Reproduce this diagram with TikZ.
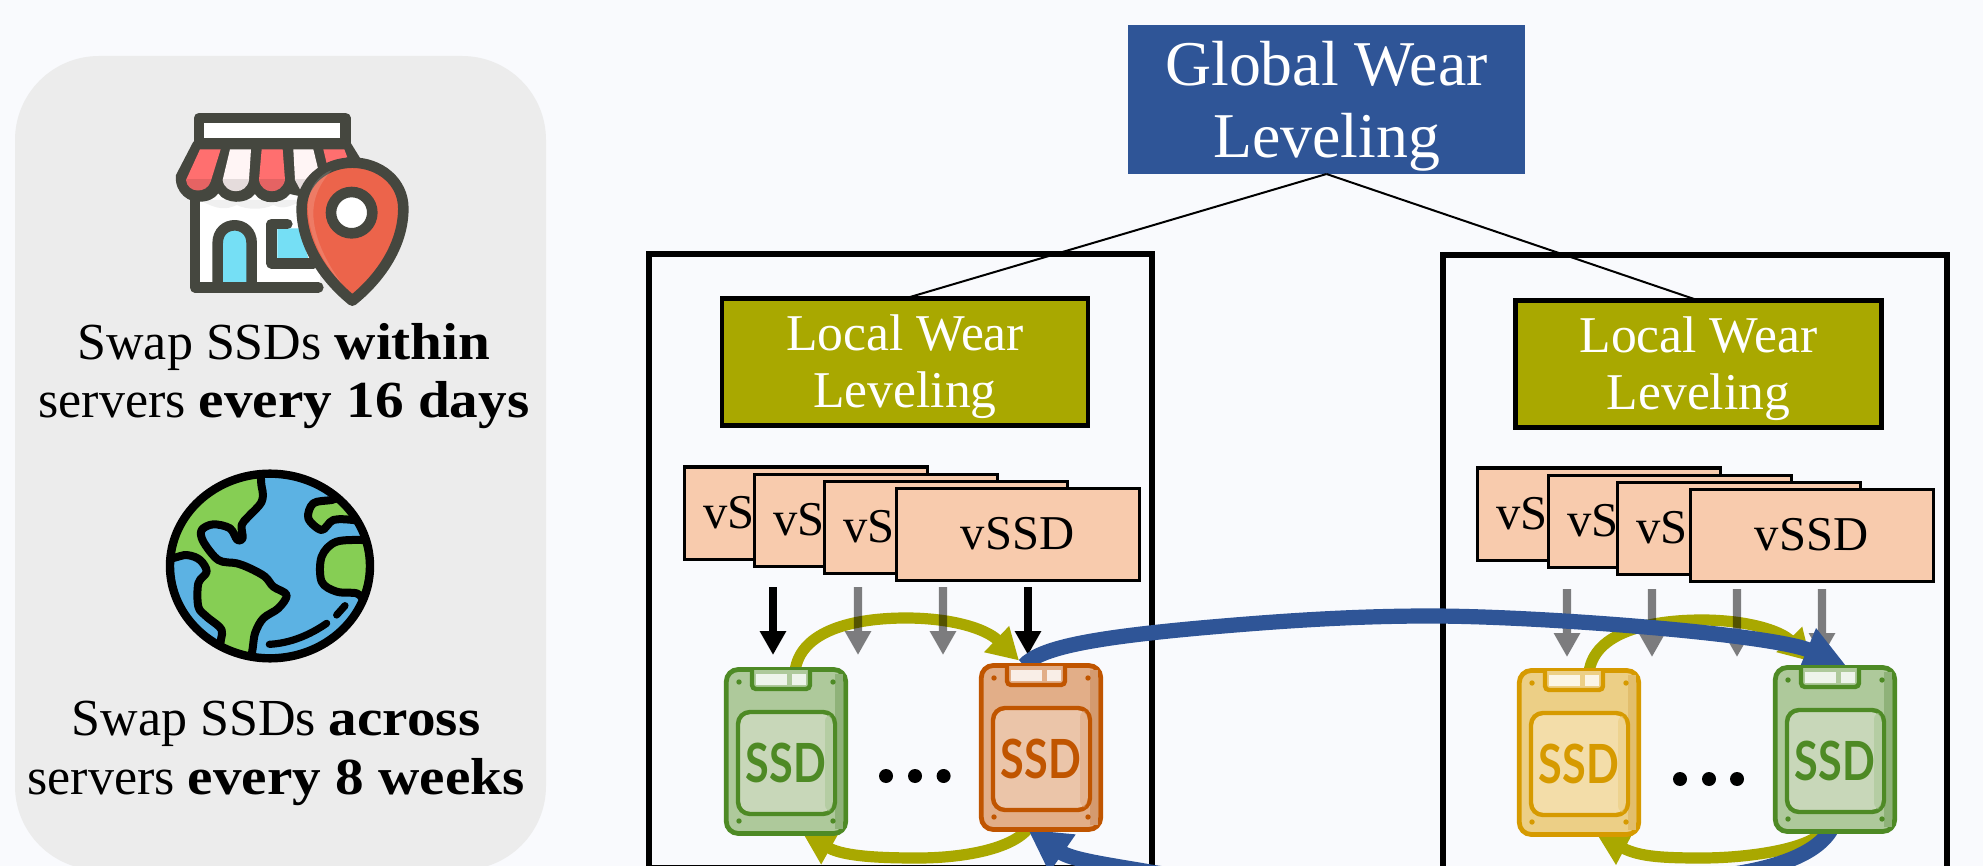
\documentclass[tikz,border=0pt]{standalone}
\usepackage{fontspec}
\setmainfont[BoldFeatures={FakeStretch=1.1}]{Liberation Serif}
\newfontfamily\ssdfont[FakeStretch=0.8]{Lato}
\usetikzlibrary{arrows.meta}
\pgfdeclarelayer{fore}
\pgfsetlayers{main,fore}
\definecolor{pagebg}{HTML}{F9FAFD}
\definecolor{panelbg}{HTML}{ECECEC}
\definecolor{globalblue}{HTML}{2F5597}
\definecolor{olive}{HTML}{A9A800}
\definecolor{peach}{HTML}{F8CBAD}
\definecolor{gDark}{HTML}{4E8A25}
\definecolor{gFill}{HTML}{AEC99B}
\definecolor{gIn}{HTML}{C8D7B9}
\definecolor{gStrip}{HTML}{8FB279}
\definecolor{oDark}{HTML}{C05500}
\definecolor{oFill}{HTML}{E2AE88}
\definecolor{oIn}{HTML}{EBC5A9}
\definecolor{oStrip}{HTML}{D49A6F}
\definecolor{yDark}{HTML}{D69A00}
\definecolor{yFill}{HTML}{ECCF86}
\definecolor{yIn}{HTML}{F3DDA9}
\definecolor{yStrip}{HTML}{E2BE6C}
\definecolor{shopDark}{HTML}{45473F}
\definecolor{shopRed}{HTML}{FF6F6F}
\definecolor{shopWhite}{HTML}{FFF5F5}
\definecolor{shopCyan}{HTML}{75DFF5}
\definecolor{pinRed}{HTML}{EC644B}
\definecolor{ocean}{HTML}{5CB2E3}
\definecolor{land}{HTML}{86CE54}
\tikzset{
  server/.style={draw=black,line width=2.7pt,minimum width=251.5pt,minimum height=307pt,anchor=north west,outer sep=0pt,inner sep=0pt},
  globalbox/.style={fill=globalblue,text=white,minimum width=198.5pt,minimum height=74.5pt,inner sep=0pt,outer sep=0pt,align=center,font=\fontsize{31.9}{36}\selectfont},
  localbox/.style={draw=black,line width=2.1pt,fill=olive,text=white,minimum width=183pt,minimum height=63.5pt,inner sep=0pt,outer sep=0pt,align=center,font=\fontsize{25.8}{28.5}\selectfont},
  vbox/.style={draw=black,line width=1.5pt,fill=peach,text=black,minimum height=46pt,anchor=north west,outer sep=0pt,inner xsep=9.75pt,inner ysep=0pt,text width=102pt,align=left,font=\fontsize{24.3}{26}\selectfont},
  topbox/.style={vbox,inner xsep=32.4pt,text width=57pt},
  capt/.style={anchor=base,inner sep=0pt,font=\fontsize{26}{30}\selectfont},
  vblack/.style={line width=4.2pt,-{Triangle[length=12pt,width=12.5pt]},draw=black},
  vgrey/.style={line width=4.2pt,-{Triangle[length=12pt,width=12.5pt]},draw=black},
  swaplocal/.style={line width=5.6pt,draw=olive,-{Triangle[length=15.5pt,width=17pt]}},
  swapglobal/.style={line width=7.6pt,draw=globalblue,-{Triangle[length=21pt,width=21.5pt]}},
  tree/.style={line width=1pt,draw=black},
  dotmark/.style={circle,fill=black,minimum size=7pt,inner sep=0pt},
}
\newcommand\ssdicon[7]{%
  \begin{pgfonlayer}{fore}
  \begin{scope}[shift={(#2,#3)}]
    \node[draw=#4,fill=#5,line width=2.4pt,rounded corners=6pt,minimum width=59.7pt,minimum height=82pt,inner sep=0pt,outer sep=0pt] (#1) at (61,83.5) {};
    \fill[#7] (110,6) rectangle (117.5,161);
    \draw[#4,fill=#5,line width=2.2pt,rounded corners=2pt] (27,2) -- (27,21) -- (85,21) -- (85,2);
    \fill[white,opacity=.8] (31,6) rectangle (62,17);
    \fill[white,opacity=.8] (67,6) rectangle (81,17);
    \draw[#4,fill=#6,line width=2.2pt,rounded corners=6pt] (13,44) rectangle (110,146);
    \fill[#5,opacity=.7,rounded corners=3pt] (100,47) rectangle (107.3,143);
    \foreach \px/\py in {14/14,108/14,14/153,108/153}{\fill[#4] (\px,\py) circle [radius=2.7];}
    \node[text=#4,inner sep=0pt,font=\ssdfont\bfseries\fontsize{27}{30}\selectfont] (#1t) at (61,94.5) {SSD};
  \end{scope}
  \end{pgfonlayer}}
\newcommand\shopstripe[2]{%
  \fill[#2] #1;
  \begin{scope}\clip #1; \fill[black,opacity=.1] (0,237) rectangle (840,320);\end{scope}}
\begin{document}
\begin{tikzpicture}[x=.5pt,y=-.5pt]
\useasboundingbox (0,0) rectangle (1983,866);
\clip (0,0) rectangle (1983,866);
\fill[pagebg] (0,0) rectangle (1983,866);
% left panel
\fill[panelbg,rounded corners=42pt] (15,56) rectangle (546,870);
% shop icon
\begin{scope}[shift={(150,100)},scale=1/3]
  \fill[white] (135,280) rectangle (510,562);
  \fill[black,opacity=.06] (150,300) .. controls (200,330) and (230,330) .. (260,315) .. controls (290,330) and (340,330) .. (370,315) .. controls (400,330) and (420,320) .. (460,300) -- cycle;
  \fill[shopCyan] (203,562) -- (203,430) .. controls (203,360) and (305,360) .. (305,430) -- (305,562) -- cycle;
  \draw[shopDark,line width=5.3pt] (203,562) -- (203,430) .. controls (203,358) and (305,358) .. (305,430) -- (305,562);
  \fill[shopCyan] (382,385) -- (450,385) -- (475,475) -- (382,475) -- cycle;
  \draw[shopDark,line width=5.3pt,line cap=round,line join=round] (412,372) -- (365,372) -- (365,490) -- (490,490);
  \draw[shopDark,line width=5.3pt,line cap=round,line join=round] (135,290) -- (135,562) -- (505,562);
  \fill[shopDark] (130,125) -- (78,225) .. controls (72,280) and (120,310) .. (150,305) .. controls (175,305) and (195,295) .. (205,280) .. controls (225,312) and (290,315) .. (315,282) .. controls (335,315) and (395,315) .. (420,282) -- (500,300) -- (640,190) -- (600,125) -- cycle;
  \shopstripe{(150,148) -- (212,148) -- (182,245) .. controls (170,282) and (112,280) .. (108,240) -- cycle}{shopRed}
  \shopstripe{(240,148) -- (303,148) -- (297,240) .. controls (290,285) and (225,285) .. (218,240) -- cycle}{shopWhite}
  \shopstripe{(335,148) -- (398,148) -- (405,240) .. controls (395,285) and (335,285) .. (327,240) -- cycle}{shopRed}
  \shopstripe{(430,148) -- (490,148) -- (505,210) -- (450,268) -- (435,240) -- cycle}{shopWhite}
  \fill[shopRed] (520,148) -- (583,148) -- (592,172) -- (530,190) -- cycle;
  \draw[shopDark,line width=5.3pt,line join=round,fill=white] (147,54) rectangle (586,131);
  \draw[shopDark,line width=5.3pt,fill=pinRed,line join=round] (607,602) .. controls (530,540) and (455,440) .. (455,325) .. controls (455,245) and (525,188) .. (607,188) .. controls (690,188) and (760,245) .. (760,325) .. controls (760,440) and (685,540) .. (607,602) -- cycle;
  \fill[white,opacity=.15] (474,320) .. controls (474,265) and (505,225) .. (545,210) .. controls (510,250) and (490,290) .. (490,340) .. controls (490,410) and (530,490) .. (575,550) .. controls (520,490) and (474,410) .. (474,320) -- cycle;
  \draw[shopDark,line width=5.3pt,fill=white] (605,338) circle [radius=62];
\end{scope}
% globe
\begin{scope}[shift={(150,460)},scale=1/3]
  \fill[ocean] (360,318) ellipse [x radius=300,y radius=277];
  \begin{scope}
    \clip (360,318) ellipse [x radius=300,y radius=277];
    \draw[black,line width=4pt,fill=land,line join=round] plot[smooth cycle,tension=.55] coordinates {(310,20) (335,80) (335,125) (295,170) (275,195) (278,235) (262,240) (240,205) (190,193) (155,210) (160,245) (205,300) (260,310) (300,325) (345,350) (370,380) (410,405) (385,445) (340,475) (315,520) (295,600) (215,565) (215,510) (170,470) (145,440) (145,370) (170,335) (150,300) (110,285) (30,285) (30,100) (150,30)};
    \draw[black,line width=4pt,fill=land,line join=round] plot[smooth cycle,tension=.55] coordinates {(545,120) (490,130) (475,175) (515,210) (550,180) (610,180) (660,190) (600,110)};
    \draw[black,line width=4pt,fill=land,line join=round] plot[smooth cycle,tension=.55] coordinates {(660,240) (560,245) (515,290) (515,365) (560,395) (620,400) (650,420) (720,400) (720,240)};
  \end{scope}
  \draw[black,line width=4.2pt] (360,318) ellipse [x radius=300,y radius=277];
  \draw[black,line width=3.6pt,line cap=round] (358,553) .. controls (420,550) and (480,525) .. (530,490);
  \draw[black,line width=3.6pt,line cap=round] (560,465) -- (585,437);
\end{scope}
% captions
\node[capt] (c1) at (284,360) {Swap SSDs \textbf{within}};
\node[capt] (c2) at (284,418) {servers \textbf{every 16 days}};
\node[capt] (c3) at (276,735) {Swap SSDs \textbf{across}};
\node[capt] (c4) at (276,794) {servers \textbf{every 8 weeks}};
% servers
\node[server] (srvL) at (649,254) {};
\node[server,minimum width=252pt] (srvR) at (1443,255) {};
% wear leveling boxes
\node[globalbox] (glob) at (1326.5,99.5) {\rule{0pt}{28.5pt}Global Wear\\Leveling};
\node[localbox] (locL) at (905,362) {\rule{0pt}{22.5pt}Local Wear\\Leveling};
\node[localbox] (locR) at (1698.5,364) {\rule{0pt}{22.5pt}Local Wear\\Leveling};
\draw[tree] (glob.south) -- (locL.north);
\draw[tree] (glob.south) -- (locR.north);
% vSSD stacks, left
\node[vbox] (vL1) at (684,467) {vSSD};
\node[vbox] (vL2) at (754,474) {vSSD};
\node[vbox] (vL3) at (824,481) {vSSD};
\node[topbox] (vL4) at (896,488) {vSSD};
% vSSD stacks, right
\node[vbox] (vR1) at (1477,468) {vSSD};
\node[vbox] (vR2) at (1548,475) {vSSD};
\node[vbox] (vR3) at (1617,482) {vSSD};
\node[topbox] (vR4) at (1690,489) {vSSD};
% SSDs
\ssdicon{ssdLa}{725}{668}{gDark}{gFill}{gIn}{gStrip}
\ssdicon{ssdLb}{980}{664}{oDark}{oFill}{oIn}{oStrip}
\ssdicon{ssdRa}{1518}{669}{yDark}{yFill}{yIn}{yStrip}
\ssdicon{ssdRb}{1774}{666}{gDark}{gFill}{gIn}{gStrip}
% dots
\foreach \n/\px/\py in {a/886/776,b/915/776,c/943.6/776,d/1680/779,e/1709/779,f/1737/779}{\node[dotmark] (dot\n) at (\px,\py) {};}
% olive local swaps
\draw[swaplocal] ([shift={(4.5pt,-1pt)}]ssdLa.north) .. controls (800,630) and (855,618) .. (906,618) .. controls (950,618) and (985,628) .. ([shift={(-11pt,2.5pt)}]ssdLb.north);
\draw[swaplocal] ([shift={(-6pt,1pt)}]ssdLb.south) .. controls (1012,850) and (960,858) .. (918,858) .. controls (885,858) and (845,857) .. ([shift={(8.5pt,0pt)}]ssdLa.south);
\draw[swaplocal] ([shift={(5pt,-1pt)}]ssdRa.north) .. controls (1594,632) and (1650,620) .. (1702,620) .. controls (1745,620) and (1780,630) .. ([shift={(-12pt,3pt)}]ssdRb.north);
\draw[swaplocal] ([shift={(-5pt,1pt)}]ssdRb.south) .. controls (1810,850) and (1745,858) .. (1702,858) .. controls (1665,858) and (1640,857) .. ([shift={(9pt,0pt)}]ssdRa.south);
% vSSD to SSD arrows
\coordinate (tipLa) at (773,655); \coordinate (tipLb) at (858,655); \coordinate (tipLc) at (943,655); \coordinate (tipLd) at (1028,655);
\coordinate (tipRa) at (1567,657); \coordinate (tipRb) at (1652,657); \coordinate (tipRc) at (1737,657); \coordinate (tipRd) at (1822,657);
\draw[vblack] (773,587) -- (tipLa);
\draw[vblack] (1028,587) -- (tipLd);
\begin{scope}[transparency group,opacity=.5]
\draw[vgrey] (858,587) -- (tipLb);
\draw[vgrey] (943,587) -- (tipLc);
\draw[vgrey] (1567,589) -- (tipRa);
\draw[vgrey] (1652,589) -- (tipRb);
\draw[vgrey] (1737,589) -- (tipRc);
\draw[vgrey] (1822,589) -- (tipRd);
\end{scope}
% blue global swaps
\draw[swapglobal] ([shift={(-8.5pt,0pt)}]ssdLb.north) .. controls (1040,648) and (1090,638) .. (1200,628) .. controls (1290,620) and (1360,616) .. (1430,616) .. controls (1540,616) and (1770,634) .. ([shift={(5.5pt,1pt)}]ssdRb.north);
\draw[swapglobal] ([shift={(-1pt,3pt)}]ssdRb.south) .. controls (1820,855) and (1770,872) .. (1700,878) .. controls (1500,900) and (1300,895) .. (1150,872) .. controls (1110,865) and (1072,860) .. ([shift={(-6.5pt,0pt)}]ssdLb.south);
\end{tikzpicture}
\end{document}
